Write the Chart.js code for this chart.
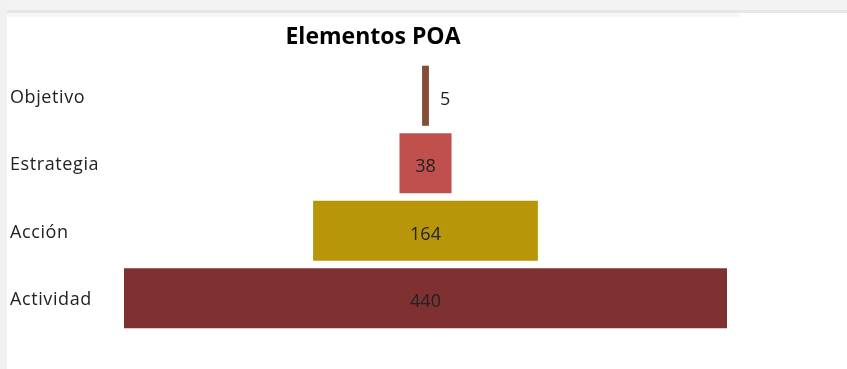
<!DOCTYPE html>
<html>
<head>
<meta charset="utf-8">
<title>Elementos POA</title>
<script src="https://cdn.jsdelivr.net/npm/chart.js@4/dist/chart.umd.min.js"></script>
<style>
  html, body { margin: 0; padding: 0; background: #fff; }
  #wrap { width: 847px; height: 369px; }
</style>
</head>
<body>
<div id="wrap"><canvas id="funnel"></canvas></div>
<script>
const etapas = ['Objetivo', 'Estrategia', 'Acción', 'Actividad'];
const cantidades = [5, 38, 164, 440];
const colores = ['#874c35', '#c0504d', '#b8960a', '#7f3131'];

// each bar is centred on zero, so it spans -v/2 .. v/2
const mitad = Math.max(...cantidades) / 2;
const tramos = cantidades.map(v => [-v / 2, v / 2]);

const fondoYTextos = {
    id: 'fondoYTextos',
    beforeDraw(chart) {
        const c = chart.ctx;
        c.save();
        c.fillStyle = '#ffffff';
        c.fillRect(0, 0, chart.width, chart.height);
        // grey frame above and left of the panel
        c.fillStyle = '#f3f3f3';
        c.fillRect(0, 0, chart.width, 13);
        c.fillStyle = '#e6e6e6';
        c.fillRect(0, 10, chart.width, 3);
        c.fillStyle = '#f7f7f7';
        c.fillRect(0, 13, 740, 4);
        c.fillStyle = '#f1f1f1';
        c.fillRect(0, 0, 7, chart.height);
        c.restore();
    },
    afterDatasetsDraw(chart) {
        const c = chart.ctx;
        const meta = chart.getDatasetMeta(0);
        const xs = chart.scales.x;
        c.save();
        c.fillStyle = '#000';
        c.font = 'bold 23px "Open Sans", sans-serif';
        c.textAlign = 'center';
        c.textBaseline = 'middle';
        c.fillText('Elementos POA', 373, 37);

        c.fillStyle = '#222';
        meta.data.forEach((bar, i) => {
            c.font = '18px "Open Sans", sans-serif';
            c.letterSpacing = '0.6px';
            c.textAlign = 'left';
            c.fillText(etapas[i], 10, bar.y + 2);
            c.letterSpacing = '0px';
            const ancho = Math.abs(bar.x - bar.base);
            if (ancho < 40) {
                c.fillText(String(cantidades[i]), bar.x + 11, bar.y + 4);
            } else {
                c.textAlign = 'center';
                c.fillText(String(cantidades[i]), xs.getPixelForValue(0), bar.y + 4);
            }
        });
        c.restore();
    }
};

new Chart(document.getElementById('funnel'), {
    type: 'bar',
    data: {
        labels: etapas,
        datasets: [{
            data: tramos,
            backgroundColor: colores,
            borderWidth: 0,
            barPercentage: 0.89,
            categoryPercentage: 1
        }]
    },
    options: {
        indexAxis: 'y',
        responsive: true,
        maintainAspectRatio: false,
        animation: false,
        layout: { padding: { left: 124, right: 120, top: 62, bottom: 37 } },
        plugins: {
            legend: { display: false },
            tooltip: { enabled: false }
        },
        scales: {
            x: { display: false, min: -mitad, max: mitad },
            y: { display: false }
        }
    },
    plugins: [fondoYTextos]
});
</script>
</body>
</html>
